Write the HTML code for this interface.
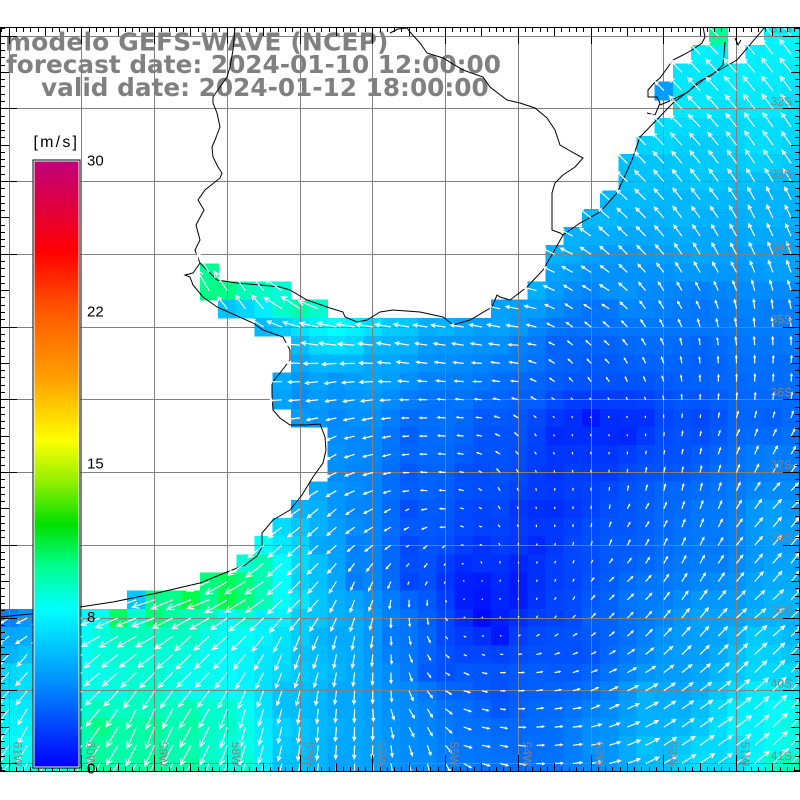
<!DOCTYPE html>
<html><head><meta charset="utf-8"><title>GEFS-WAVE</title>
<style>
html,body{margin:0;padding:0;background:#fff;}
body{width:800px;height:800px;overflow:hidden;}
svg{display:block;}
text{font-family:"Liberation Sans",sans-serif;}
.t{font-family:"DejaVu Sans","Liberation Sans",sans-serif;font-weight:bold;font-size:24.75px;fill:#808080;}
.lab{font-size:15px;fill:#000;}
.gl{font-size:12px;fill:#8a8080;}
</style></head><body>
<svg id="svg" width="800" height="800" viewBox="0 0 800 800" xmlns="http://www.w3.org/2000/svg">
<defs>
<clipPath id="mc"><rect x="0" y="27" width="800" height="745"/></clipPath>
<linearGradient id="cbg" x1="0" y1="1" x2="0" y2="0">
<stop offset="0" stop-color="#0000ff"/>
<stop offset="0.14" stop-color="#0090ff"/>
<stop offset="0.26" stop-color="#00ffff"/>
<stop offset="0.33" stop-color="#00ff90"/>
<stop offset="0.40" stop-color="#00e000"/>
<stop offset="0.47" stop-color="#90f000"/>
<stop offset="0.54" stop-color="#ffff00"/>
<stop offset="0.64" stop-color="#ffa000"/>
<stop offset="0.75" stop-color="#ff5a00"/>
<stop offset="0.85" stop-color="#ff0000"/>
<stop offset="1" stop-color="#c0007a"/>
</linearGradient>
</defs>
<g id="cells" clip-path="url(#mc)" shape-rendering="crispEdges"></g>
<g>
<text class="t" x="5" y="50.5" style="font-size:25px;letter-spacing:0.1px">modelo GEFS-WAVE (NCEP)</text>
<text class="t" x="6" y="73.2">forecast date: 2024-01-10 12:00:00</text>
<text class="t" x="41" y="95.8">valid date: 2024-01-12 18:00:00</text>
</g>
<g id="grid" stroke="#808080" stroke-width="1" shape-rendering="crispEdges"></g>
<g id="coast" fill="none" stroke="#000" stroke-width="1" clip-path="url(#mc)">
<path d="M0,617 L40,613 L80,607 L113,602 L157,593 L200,583 L227,572 L245,565 L257,556 L262,547 L262,533 L273,520 L290,510 L302,495 L313,477 L323,463 L326,450 L325,437 L320,424 L305,425 L290,425 L280,418 L273,410 L272,395 L272,383 L280,373 L290,360 L290,350 L283,337 L263,330 L253,323 L235,315 L217,307 L203,297 L193,285 L190,277 L185,275 L193,273 L200,263"/>
<path d="M200,263 L195,250 L200,240 L196,225 L204,210 L198,200 L205,190 L220,178 L222,173 L218,167 L213,157 L212,147 L215,140 L220,127 L217,113 L213,103 L213,97 L227,77 L230,67 L233,50 L235,27"/>
<path d="M200,263 L217,280 L237,283 L260,285 L280,287 L290,290 L307,300 L330,308 L343,312 L345,317 L357,322 L367,320 L380,312 L393,310 L420,312 L443,317 L453,325 L470,320 L492,307 L497,295 L500,297 L510,300 L527,287 L543,270 L553,253 L563,235 L580,223 L600,212 L617,193 L623,180 L632,160 L640,137 L673,103 L707,77 L737,60 L765,27"/>
<path d="M390,33 L398,29 L407,28 L410,32 L420,43 L427,53 L443,58 L463,70 L483,77 L490,87 L507,100 L520,103 L535,108 L547,118 L555,130 L560,145 L572,152 L583,158 L575,167 L563,175 L555,183 L552,193 L552,230 L560,233 L563,235"/>
<path d="M647,113 L655,115 L660,103 L657,97 L648,97 L648,90 L655,82 L660,78 L673,60 L683,55 L692,50 L702,43 L705,37 L703,27"/>
<path d="M725,42 L723,65 L712,75 L698,82 L688,92 L672,100 L660,105"/>
<path d="M735,38 L738,45 L741,40"/>
</g>
<g id="arrows" fill="none" stroke="#fff" stroke-width="1.2" clip-path="url(#mc)"></g>
<g id="labels" clip-path="url(#mc)"></g>
<g id="frame" stroke="#000" stroke-width="1" shape-rendering="crispEdges">
<rect x="0.5" y="27.5" width="799" height="744" fill="none"/>
</g>
<g>
<text class="lab" x="33.5" y="147" style="font-size:16px;letter-spacing:2.2px">[m/s]</text>
<rect x="32.5" y="159.5" width="48" height="609" fill="#000"/>
<rect x="33.5" y="160.5" width="46" height="607" fill="#fff"/>
<rect x="34.5" y="161.5" width="44" height="605" fill="url(#cbg)"/>
<text class="lab" x="87" y="165.5">30</text>
<text class="lab" x="87" y="316.5">22</text>
<text class="lab" x="87" y="468.5">15</text>
<text class="lab" x="87" y="622">8</text>
<text class="lab" x="87" y="773.5">0</text>
</g>
</svg>
<script>
(function(){
const S=72.75, C=S/4, X0=9, Y0=36;
const R={0:[[39,39],[42,43]],1:[[38,39],[41,43]],2:[[37,43]],3:[[36,43]],4:[[37,43]],5:[[36,43]],6:[[35,43]],7:[[34,43]],8:[[34,43]],9:[[33,43]],10:[[32,43]],11:[[31,43]],12:[[30,43]],13:[[11,11],[30,43]],14:[[11,15],[29,43]],15:[[12,17],[27,43]],16:[[14,43]],17:[[16,43]],18:[[16,43]],19:[[15,43]],20:[[15,43]],21:[[16,43]],22:[[18,43]],23:[[18,43]],24:[[18,43]],25:[[17,43]],26:[[16,43]],27:[[15,43]],28:[[14,43]],29:[[13,43]],30:[[11,43]],31:[[7,43]]};
for(let j=32;j<=40;j++)R[j]=[[0,43]];
const OV={"39,0":9.5,"36,3":4.8};
const SP=[
[700,50,7.4],[780,45,7.5],[780,30,7.6],[740,80,7.4],[690,100,7.2],[760,100,7.2],[660,130,6.8],[760,140,6.8],[700,170,6.2],[640,180,6.0],[600,213,5.7],[767,213,5.5],[680,215,5.6],[560,245,5.6],[700,250,5.1],[780,260,5.0],[530,290,5.5],[620,290,4.6],[505,320,5.0],[560,350,2.9],
[600,315,3.4],[700,310,3.6],[780,315,3.8],[600,360,2.7],[700,360,2.9],[780,370,3.3],[590,420,0.7],[620,430,0.9],[560,430,1.0],[640,420,1.4],[700,420,2.2],[770,420,2.9],[600,460,1.5],[670,460,2.4],[770,460,3.9],[560,510,1.3],[590,500,2.0],[670,500,3.2],[770,520,5.0],[540,545,1.2],[520,575,0.6],[560,575,1.8],[580,560,2.2],
[613,547,2.8],[713,547,3.7],[780,580,5.2],[680,647,4.8],[763,697,7.4],[647,747,5.9],[547,747,3.4],[580,647,2.4],[497,697,2.4],[473,590,0.2],[480,613,0.2],[500,630,0.5],[520,600,0.8],[560,615,2.0],[440,670,2.4],[530,670,2.9],
[209,272,9.6],[209,290,9.8],[227,290,9.9],[245,290,9.1],[264,290,8.8],[282,290,8.5],
[227,309,5.9],[245,309,6.5],[264,309,7.2],[282,309,8.8],[300,309,9.3],[318,309,8.7],
[264,327,5.6],[282,327,6.1],[300,327,6.9],[318,327,7.4],[336,327,7.8],[355,327,7.4],[373,327,6.8],[400,327,6.2],[446,327,5.6],[500,327,5.0],
[300,355,4.9],[380,355,4.9],[440,355,4.4],[520,355,3.9],
[300,383,4.6],[340,383,4.6],[440,383,3.9],[520,383,3.2],
[300,400,4.4],[340,400,4.4],[440,400,3.4],[530,400,2.9],
[335,420,4.1],[415,420,3.2],[485,420,2.7],[540,420,2.2],[570,420,1.4],
[350,440,4.1],[410,440,2.9],[490,440,2.4],[560,440,1.2],
[350,475,4.1],[410,475,2.7],[475,475,2.2],[550,475,1.5],
[310,510,5.4],[350,510,4.1],[410,510,2.4],[475,510,2.0],[530,510,1.4],
[290,545,6.9],[315,545,5.1],[355,545,3.9],[410,545,2.2],[480,545,1.5],
[300,575,6.1],[355,575,3.6],[410,575,2.0],[460,575,1.0],
[264,564,9.1],[282,564,7.8],[245,564,8.5],
[209,583,9.9],[236,583,11.4],[264,583,9.1],[282,583,7.8],[330,590,5.0],
[136,601,6.0],[160,601,10.0],[190,601,10.9],[227,601,10.9],[245,601,10.0],[264,601,9.0],[282,601,8.0],[300,601,7.0],
[9,619,3.9],[27,619,4.6],[90,619,7.5],[118,619,10.4],[155,619,10.2],[190,619,9.0],[227,619,8.0],[264,619,7.3],[300,619,6.3],[336,619,5.4],
[110,645,8.5],[160,645,8.5],[220,645,7.8],[270,650,7.0],[300,650,5.9],
[9,650,5.5],[9,683,6.6],[27,683,6.9],[100,683,8.2],[150,690,8.8],[190,683,8.0],[9,720,7.4],[100,728,9.8],[150,728,9.6],[190,720,9.4],[230,720,8.8],[9,760,8.3],[100,760,9.5],[150,760,9.6],[190,760,9.4],[240,760,8.6],
[290,700,5.6],[290,760,5.8],[330,640,5.0],[340,700,5.0],[340,760,5.0],[400,640,3.6],[410,700,4.3],[410,760,4.3],[460,640,1.8],[470,720,3.4],[480,760,3.6],
[520,740,3.2],[600,740,4.5],[650,700,5.5],[700,760,6.8],[740,720,7.5],[785,720,8.4],[785,765,9.0],[760,650,6.5],[700,620,5.0],[640,600,3.8],[600,620,3.0],[560,650,2.5],[520,650,2.2],
[700,520,3.7],[780,540,4.8],[780,600,5.6],[620,520,2.6]
];
const DP=[
[720,50,225],[780,60,232],[680,120,225],[780,150,235],[620,200,222],[700,200,232],[780,220,245],[560,250,205],[640,250,225],[720,260,240],[790,270,250],[520,300,190],[600,300,210],[680,310,240],[760,320,265],[520,345,183],[600,350,222],[700,350,262],[520,380,185],[550,380,215],[590,380,235],[640,380,248],[720,380,272],[780,370,275],[480,380,180],[700,430,280],[733,440,295],[785,450,300],[785,500,315],[540,440,235],[600,450,265],[660,460,285],[520,500,250],[560,500,280],[640,520,302],[760,540,312],[540,560,300],[620,590,318],[760,620,320],[700,720,325],[600,700,335],[560,720,355],[540,700,350],[500,680,0],[470,690,15],[460,665,25],[430,650,60],[410,620,85],[380,680,92],[413,713,60],[480,740,10],[430,480,185],[380,450,165],[330,450,150],[300,400,175],[330,380,170],[300,360,182],[320,330,192],[400,330,190],[450,330,188],[250,300,235],[210,285,240],[300,300,215],[360,420,168],[420,420,180],[470,420,185],[400,520,150],[330,520,138],[290,560,138],[440,560,125],[360,600,110],[300,600,135],[250,590,150],[200,595,160],[150,605,162],[100,615,160],[40,625,155],[30,660,130],[100,660,140],[200,650,135],[300,650,110],[350,650,100],[50,720,115],[150,720,112],[250,720,105],[320,720,95],[370,740,93],[420,760,75],[470,530,200],[500,600,270],[480,600,300]
];
function interp(x,y){
  let ws=0,ss=0;
  for(const p of SP){const dx=p[0]-x,dy=p[1]-y;const w=1/Math.pow(dx*dx+dy*dy+9,1.25);ws+=w;ss+=w*p[2];}
  let u=0,v=0;
  for(const p of DP){const dx=p[0]-x,dy=p[1]-y;const w=1/Math.pow(dx*dx+dy*dy+9,1.25);const a=p[2]*Math.PI/180;u+=w*Math.cos(a);v+=w*Math.sin(a);}
  return [ss/ws,Math.atan2(v,u)];
}
function color(s){
  let r=0,g,b;
  if(s<=7.8){g=255*s/7.8;b=255;}
  else if(s<=12){g=255;b=255*(1-(s-7.8)/4.2);}
  else {g=230;b=0;r=Math.min(255,(s-12)/4*255);}
  return "rgb("+Math.round(r)+","+Math.round(Math.max(0,g))+","+Math.round(Math.max(0,b))+")";
}
const LT=[[0,0.8],[1,1.5],[2,3],[3,6.3],[4,9.5],[5,13],[7.3,18.5],[10,24],[12,28]];
function Lf(s){
  if(s<=0)return 0.8;
  for(let k=1;k<LT.length;k++){if(s<=LT[k][0]){const a=LT[k-1],b=LT[k];return a[1]+(b[1]-a[1])*(s-a[0])/(b[0]-a[0]);}}
  return 28;
}
const f=n=>n.toFixed(1);
let cells="",ad="";
for(const jk in R){
  const j=Number(jk), cy=Y0+C*j;
  for(const rg of R[jk]) for(let i=rg[0];i<=rg[1];i++){
    const cx=X0+C*i;
    let r=interp(cx,cy), s=r[0], a=r[1];
    const key=i+","+j; if(OV[key]!==undefined) s=OV[key];
    cells+='<rect x="'+(cx-C/2).toFixed(2)+'" y="'+(cy-C/2).toFixed(2)+'" width="'+(C+0.6).toFixed(2)+'" height="'+(C+0.6).toFixed(2)+'" fill="'+color(s)+'"/>';
    const L=Math.max(1.5,Lf(s));
    const hx=cx+L*Math.cos(a), hy=cy+L*Math.sin(a);
    ad+="M"+f(cx)+" "+f(cy)+"L"+f(hx)+" "+f(hy);
    if(L>=4.5){
      const h=0.3*L, b1=a+Math.PI+0.45, b2=a+Math.PI-0.45;
      ad+="M"+f(hx+h*Math.cos(b1))+" "+f(hy+h*Math.sin(b1))+"L"+f(hx)+" "+f(hy)+"L"+f(hx+h*Math.cos(b2))+" "+f(hy+h*Math.sin(b2));
    }
  }
}
document.getElementById("cells").innerHTML=cells;
document.getElementById("arrows").innerHTML='<path d="'+ad+'"/>';
let g="";
for(let k=0;k<=11;k++){
  const x=Math.floor(X0+S*k)+0.5; if(x<800) g+='<line x1="'+x+'" y1="27" x2="'+x+'" y2="772"/>';
  const y=Math.floor(Y0+S*k)+0.5; if(y<772) g+='<line x1="0" y1="'+y+'" x2="800" y2="'+y+'"/>';
}
document.getElementById("grid").innerHTML=g;
let t='<rect x="0.5" y="27.5" width="799" height="744" fill="none"/>';
const md=k=>((k%10)+10)%10;
for(let k=-2;k<=115;k++){
  const len=md(k)==0?17:(md(k)==5?9:5);
  const x=Math.floor(X0+S/10*k)+0.5;
  if(x>=0&&x<=800){t+='<line x1="'+x+'" y1="27" x2="'+x+'" y2="'+(27+len)+'"/><line x1="'+x+'" y1="772" x2="'+x+'" y2="'+(772-len)+'"/>';}
  const y=Math.floor(Y0+S/10*k)+0.5;
  if(y>=27&&y<=772){t+='<line x1="0" y1="'+y+'" x2="'+len+'" y2="'+y+'"/><line x1="800" y1="'+y+'" x2="'+(800-len)+'" y2="'+y+'"/>';}
}
document.getElementById("frame").innerHTML=t;
let l="";
for(let k=0;k<=10;k++){
  const cx=X0+S*k+8.5;
  l+='<text class="gl" text-anchor="middle" dominant-baseline="central" transform="translate('+cx.toFixed(1)+',754) rotate(90)">'+(61-k)+'W</text>';
  const yg=Y0+S*k;
  l+='<text class="gl" text-anchor="end" x="792" y="'+(yg-3.5).toFixed(1)+'">'+(31+k)+'S</text>';
}
document.getElementById("labels").innerHTML=l;
})();
</script>
</body></html>
